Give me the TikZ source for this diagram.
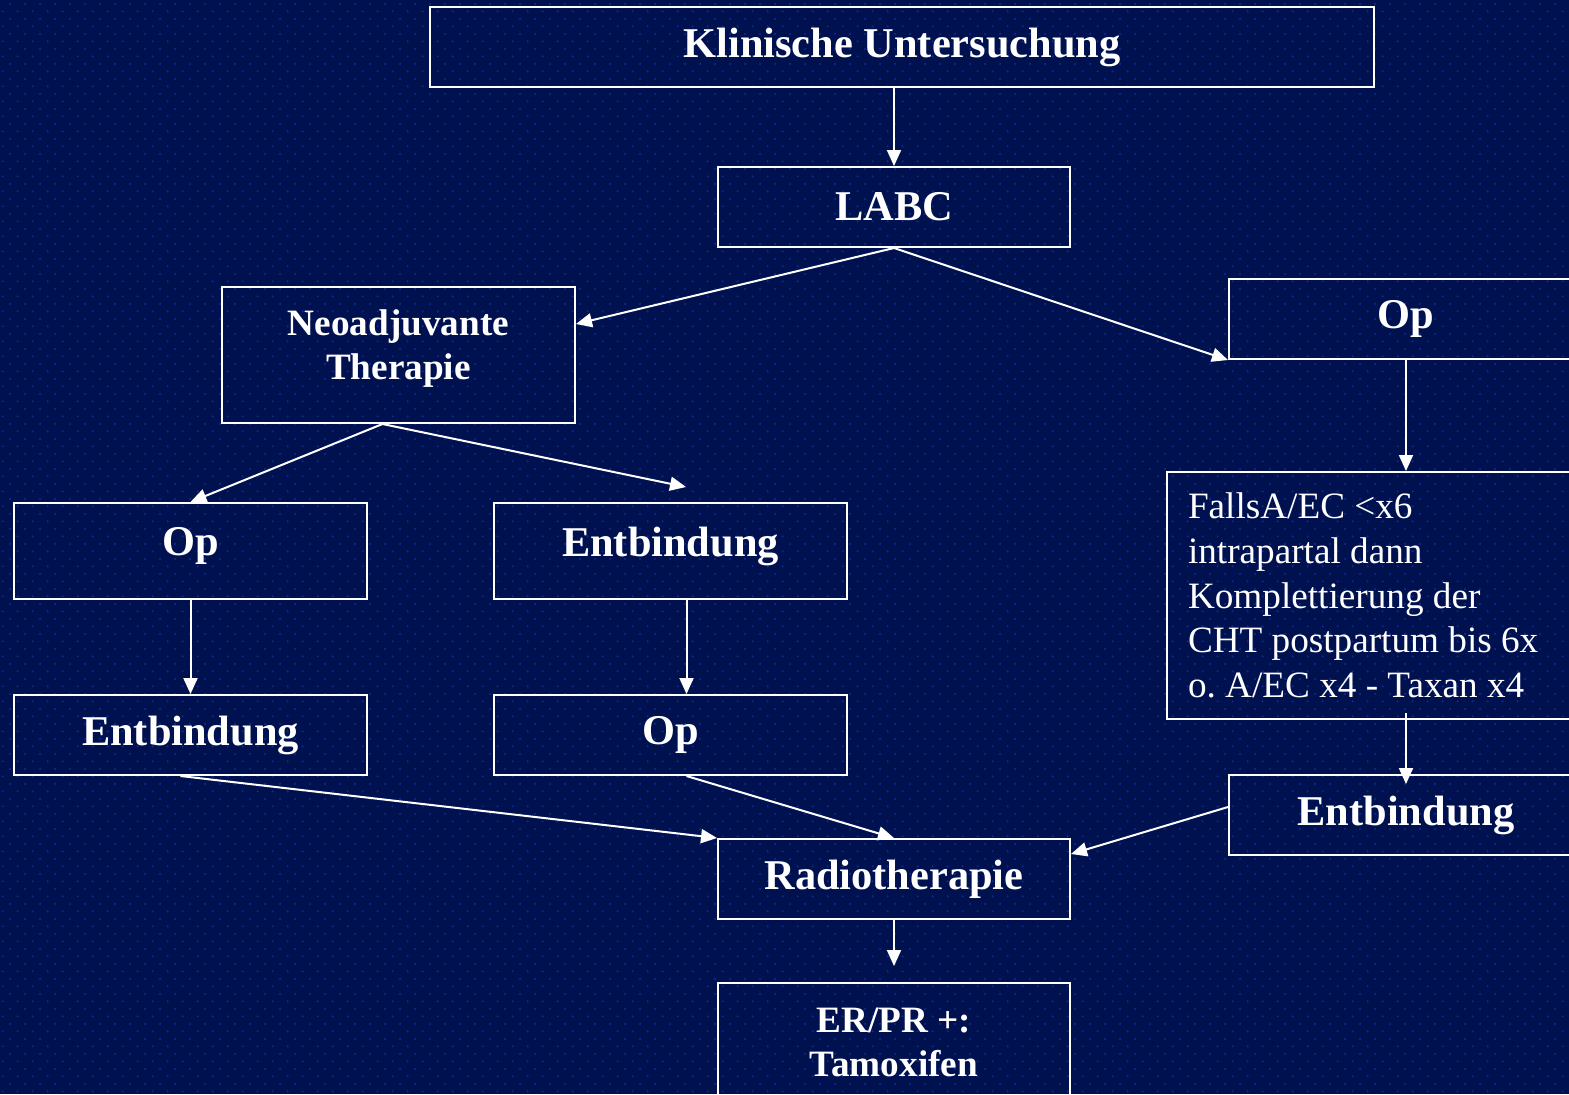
\documentclass[tikz,border=0pt]{standalone}
\usepackage{fontspec}
\setmainfont{Liberation Serif}
\usetikzlibrary{arrows.meta,calc,patterns.meta}
\definecolor{bgblue}{RGB}{0,17,80}
\definecolor{dotblue}{RGB}{14,44,140}
\tikzdeclarepattern{name=bgdots,type=uncolored,bottom left={(0pt,0pt)},top right={(7.7pt,7.7pt)},tile size={(7.7pt,7.7pt)},code={\fill (1.9pt,1.9pt) circle (0.6pt); \fill (5.75pt,5.75pt) circle (0.6pt);}}
\begin{document}
\begin{tikzpicture}[x=0.5pt,y=-0.5pt,
  box/.style={draw=white,line width=1pt,text=white,font=\bfseries\fontsize{21.2pt}{25pt}\selectfont,align=center,inner sep=0pt},
  smallbox/.style={box,font=\bfseries\fontsize{18.6pt}{22pt}\selectfont},
  arr/.style={draw=white,line width=1pt,-{Triangle[length=8pt,width=7pt]}}]
\useasboundingbox (0,0) rectangle (1569,1094);
\clip (0,0) rectangle (1569,1094);
\fill[bgblue] (0,0) rectangle (1569,1094);
\fill[pattern=bgdots,pattern color=dotblue] (0,0) rectangle (1569,1094);

\node[box,minimum width=472pt,minimum height=40pt] (klin) at (902,47) {Klinische Untersuchung};
\node[box,minimum width=176pt,minimum height=40pt] (labc) at (894,207) {LABC};
\node[smallbox,minimum width=176.5pt,minimum height=68pt,text depth=10pt] (neo) at (398.5,355) {Neoadjuvante\\Therapie};
\node[box,minimum width=177pt,minimum height=40pt] (opr) at (1406,319) {Op};
\node[box,minimum width=176.5pt,minimum height=48pt,text depth=9.5pt] (opl) at (190.5,551) {Op};
\node[box,minimum width=176.5pt,minimum height=48pt,text depth=9.5pt] (entm) at (670.5,551) {Entbindung};
\node[box,minimum width=176.5pt,minimum height=40pt] (entl) at (190.5,735) {Entbindung};
\node[box,minimum width=176.5pt,minimum height=40pt] (opm) at (670.5,735) {Op};
\node[draw=white,line width=1pt,text=white,anchor=north west,inner xsep=10.5pt,inner ysep=0pt,text width=200pt,minimum height=123.5pt,align=flush left,font=\fontsize{18.6pt}{22.3pt}\selectfont\frenchspacing] (falls) at (1166,471) {FallsA/EC {<}x6\\intrapartal dann\\Komplettierung der\\CHT postpartum bis 6x\\o. A/EC x4 - Taxan x4};
\node[box,minimum width=177pt,minimum height=40pt] (entr) at (1406,815) {Entbindung};
\node[box,minimum width=176pt,minimum height=40pt] (radio) at (894,879) {Radiotherapie};
\node[smallbox,minimum width=176pt,minimum height=68pt,text depth=9pt] (er) at (894,1051) {ER/PR +:\\Tamoxifen};

\coordinate (nt) at (686,487);
\coordinate (rt) at (894,966);

\draw[arr] (labc.north |- klin.south) -- (labc.north);
\draw[arr] (labc.south) -- ($(neo.north east)+(0,38)$);
\draw[arr] (labc.south) -- (opr.south west);
\draw[arr] ($(neo.south)+(-16,0)$) -- (opl.north);
\draw[arr] ($(neo.south)+(-16,0)$) -- (nt);
\draw[arr] (opl.south) -- (entl.north);
\draw[arr] ($(entm.south)+(16,0)$) -- ($(opm.north)+(16,0)$);
\draw[arr] (opr.south) -- (opr.south |- falls.north);
\draw[arr] ($(opr.south |- falls.south)+(0,-7)$) -- ($(entr.north)+(0,10)$);
\draw[arr] ($(entl.south)+(-10,0)$) -- (radio.north west);
\draw[arr] ($(opm.south)+(16,0)$) -- (radio.north);
\draw[arr] ($(entr.west)+(0,-8)$) -- ($(radio.north east)+(0,16)$);
\draw[arr] (radio.south) -- (rt);
\end{tikzpicture}
\end{document}
